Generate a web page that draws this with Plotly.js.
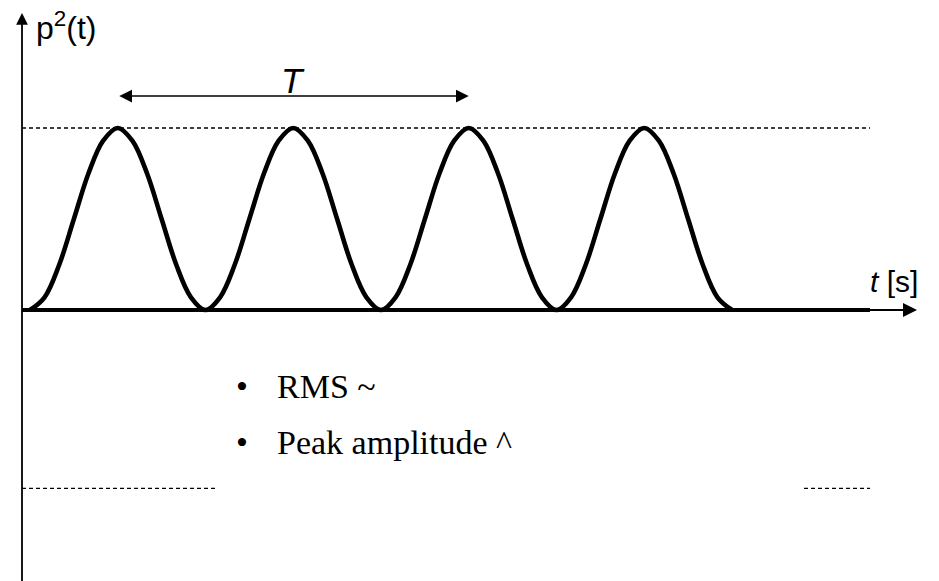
<!DOCTYPE html>
<html>
<head>
<meta charset="utf-8">
<script src="https://cdn.plot.ly/plotly-3.0.1.min.js"></script>
<style>html,body{margin:0;padding:0;background:#fff;}#chart{width:939px;height:581px;}</style>
</head>
<body>
<div id="chart"></div>
<script>
// ---- data (t in pulse periods, p2 normalised to peak = 1) ----
const timeT = [0,0.083,0.167,0.25,0.333,0.417,0.5,0.583,0.667,0.75,0.833,0.917,
               1,1.083,1.167,1.25,1.333,1.417,1.5,1.583,1.667,1.75,1.833,1.917,
               2,2.083,2.167,2.25,2.333,2.417,2.5,2.583,2.667,2.75,2.833,2.917,
               3,3.083,3.167,3.25,3.333,3.417,3.5,3.583,3.667,3.75,3.833,3.917,4];
const pressureSq = [0,0.07,0.25,0.5,0.75,0.93,1,0.93,0.75,0.5,0.25,0.07,
                    0,0.07,0.25,0.5,0.75,0.93,1,0.93,0.75,0.5,0.25,0.07,
                    0,0.07,0.25,0.5,0.75,0.93,1,0.93,0.75,0.5,0.25,0.07,
                    0,0.07,0.25,0.5,0.75,0.93,1,0.93,0.75,0.5,0.25,0.07,0];
const peakLevel = 1;
const lowerLevel = -0.98;
const periodStart = 0.5;   // first peak
const periodEnd = 2.5;     // third peak (T arrow)
const yLabel = 'p<sup>2</sup>(t)';
const xLabel = '<i>t</i> [s]';
const periodLabel = '<i>T</i>';
const bulletItems = ['RMS ~', 'Peak amplitude ^'];

// ---- layout helpers (pixel -> data mapping of the full-bleed plot) ----
const W = 939, H = 581;
const X0 = 30, PX_PER_T = 175.5;   // pixel of t=0, pixels per period
const Y0 = 310, PX_PER_P = 182;    // pixel of p2=0, pixels per unit
const tx = px => (px - X0) / PX_PER_T;
const py = p => (Y0 - p) / PX_PER_P;

const axisT = tx(22);
const dashStyle = {color:'#000', width:1.3, dash:'4px,3px'};

const shapes = [
  {type:'line', xref:'x', yref:'y', x0:axisT, x1:tx(870), y0:peakLevel, y1:peakLevel, line:dashStyle},
  {type:'line', xref:'x', yref:'y', x0:axisT, x1:tx(217), y0:lowerLevel, y1:lowerLevel, line:dashStyle},
  {type:'line', xref:'x', yref:'y', x0:tx(804), x1:tx(870), y0:lowerLevel, y1:lowerLevel, line:dashStyle},
  // thick time axis
  {type:'line', xref:'x', yref:'y', x0:axisT, x1:tx(870), y0:0, y1:0, line:{color:'#000', width:4}}
];

const annotations = [
  // y axis arrow
  {xref:'x', yref:'y', axref:'x', ayref:'y', x:axisT, y:py(13), ax:axisT, ay:py(H+5),
   text:'', showarrow:true, arrowhead:2, arrowsize:1.3, arrowwidth:1.8, arrowcolor:'#000'},
  // x axis arrow tip
  {xref:'x', yref:'y', axref:'x', ayref:'y', x:tx(917), y:0, ax:tx(866), ay:0,
   text:'', showarrow:true, arrowhead:2, arrowsize:1.4, arrowwidth:2, arrowcolor:'#000'},
  // T double arrow
  {xref:'x', yref:'y', axref:'x', ayref:'y', x:periodEnd, y:py(96), ax:periodStart, ay:py(96),
   text:'', showarrow:true, arrowhead:2, startarrowhead:2, arrowside:'end+start',
   arrowsize:1.7, startarrowsize:1.7, arrowwidth:1.5, arrowcolor:'#000'},
  {xref:'x', yref:'y', x:(periodStart+periodEnd)/2, y:py(80), text:periodLabel, showarrow:false,
   font:{family:'Liberation Sans, Arial', size:35, color:'#000'}, xanchor:'center', yanchor:'middle'},
  // axis labels
  {xref:'paper', yref:'paper', x:34/W, y:1-26/H, text:yLabel, showarrow:false,
   font:{family:'Liberation Sans, Arial', size:32, color:'#000'}, xanchor:'left', yanchor:'middle'},
  {xref:'paper', yref:'paper', x:920/W, y:1-282/H, text:xLabel, showarrow:false,
   font:{family:'Liberation Sans, Arial', size:30, color:'#000'}, xanchor:'right', yanchor:'middle'}
];

const bulletY = [386, 443];
bulletItems.forEach((txt, i) => {
  annotations.push({xref:'paper', yref:'paper', x:234/W, y:1-bulletY[i]/H, text:'•', showarrow:false,
    font:{family:'Liberation Serif, Times New Roman', size:34, color:'#000'}, xanchor:'left', yanchor:'middle'});
  annotations.push({xref:'paper', yref:'paper', x:275/W, y:1-bulletY[i]/H, text:txt, showarrow:false,
    font:{family:'Liberation Serif, Times New Roman', size:34, color:'#000'}, xanchor:'left', yanchor:'middle'});
});

const trace = {
  x: timeT, y: pressureSq, type:'scatter', mode:'lines',
  line:{color:'#000', width:4.6, shape:'spline', smoothing:1},
  hoverinfo:'skip'
};

const layout = {
  width:W, height:H,
  margin:{l:0, r:0, t:0, b:0},
  paper_bgcolor:'#fff', plot_bgcolor:'#fff',
  showlegend:false,
  xaxis:{range:[tx(0), tx(W)], visible:false, fixedrange:true},
  yaxis:{range:[py(H), py(0)], visible:false, fixedrange:true},
  shapes: shapes,
  annotations: annotations
};

Plotly.newPlot('chart', [trace], layout, {displayModeBar:false, staticPlot:true});
</script>
</body>
</html>
